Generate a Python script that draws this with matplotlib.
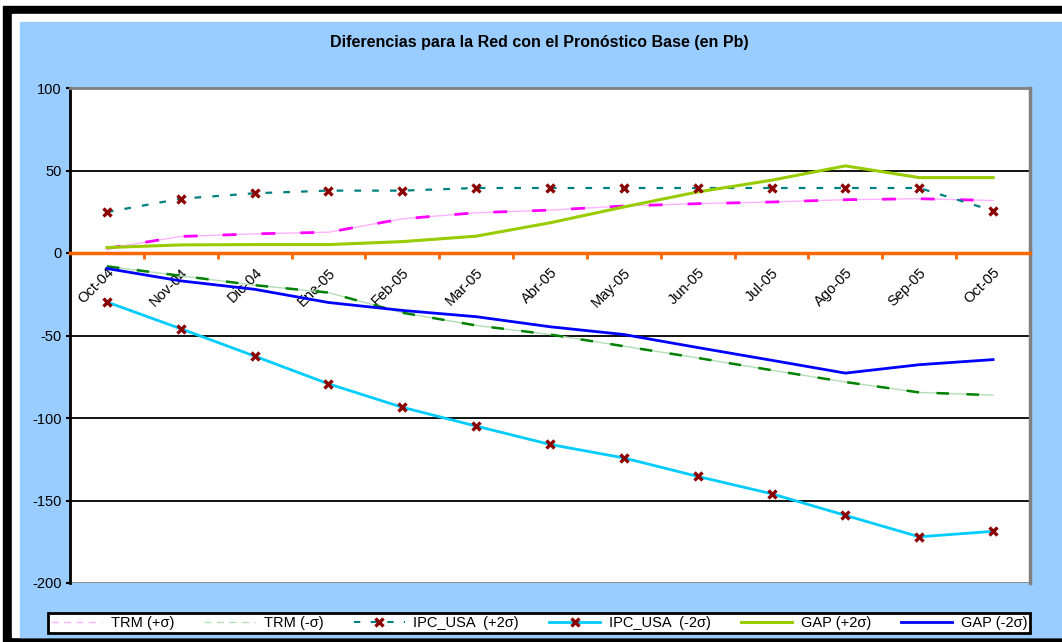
import matplotlib
matplotlib.use("Agg")
import matplotlib.pyplot as plt
from matplotlib.lines import Line2D
from matplotlib.patches import Rectangle

plt.rcParams['font.family'] = ['Liberation Sans', 'DejaVu Sans']
plt.rcParams['axes.unicode_minus'] = False

months = ['Oct-04', 'Nov-04', 'Dic-04', 'Ene-05', 'Feb-05', 'Mar-05', 'Abr-05',
          'May-05', 'Jun-05', 'Jul-05', 'Ago-05', 'Sep-05', 'Oct-05']
trm_up = [2.8, 10, 11.6, 12.6, 20.7, 24.4, 26, 28.5, 29.9, 30.9, 32.3, 32.9, 31.8]
trm_dn = [-8.1, -13.8, -19.5, -24, -36.2, -43.9, -49.4, -56.5, -63.6, -71, -78.2, -84.5, -86.2]
ipc_up = [24.8, 32.9, 36.2, 37.8, 37.8, 39.4, 39.4, 39.4, 39.4, 39.4, 39.4, 39.4, 25.6]
ipc_dn = [-29.7, -45.9, -62.5, -79.3, -93.5, -104.9, -116, -124.2, -135.4, -145.9, -159, -172, -168.7]
gap_up = [3.3, 4.9, 5.1, 5.1, 6.9, 10.2, 18.3, 27.9, 37, 44.1, 52.8, 45.7, 45.7]
gap_dn = [-9.4, -16.9, -22, -30, -34.8, -38.6, -44.7, -49.4, -57.3, -65, -72.8, -67.7, -64.6]
labels = ['TRM (+σ)', 'TRM (-σ)', 'IPC_USA  (+2σ)', 'IPC_USA  (-2σ)', 'GAP (+2σ)', 'GAP (-2σ)']

W, H = 1062, 642
fig = plt.figure(figsize=(W / 100, H / 100), dpi=100, facecolor='white')


def px_rect(x0, y0, x1, y1, color):
    # rectangle given in pixel coords (top-left origin)
    fig.patches.append(Rectangle((x0 / W, 1 - y1 / H), (x1 - x0) / W, (y1 - y0) / H,
                                 transform=fig.transFigure, color=color, zorder=-10))


# outer frame of the screenshot
px_rect(3, 6, W + 5, 642, 'black')
px_rect(12, 14, W + 5, 637, 'white')
px_rect(20, 22, W + 5, 637, '#99CCFF')

ax = fig.add_axes([70 / W, 1 - 583 / H, (1030 - 70) / W, (583 - 88) / H])
ax.set_facecolor('white')

x = list(range(len(months)))

# gridlines
for g in [50, -50, -100, -150]:
    ax.axhline(g, color='black', lw=1.3, zorder=1)

# TRM (+sigma): thin pink base + magenta dashes
ax.plot(x, trm_up, color='#FFB3FF', lw=1, zorder=2)
ax.plot(x, trm_up, color='#FF00FF', lw=2, dashes=(5, 9), zorder=2)
# TRM (-sigma)
ax.plot(x, trm_dn, color='#B3DDB3', lw=1, zorder=2)
ax.plot(x, trm_dn, color='#008000', lw=1.8, dashes=(5, 7), zorder=2)
# IPC_USA (+2sigma)
ax.plot(x, ipc_up, color='#008080', lw=1.6, dashes=(3, 5), zorder=3)
ax.plot(x, ipc_up, ls='none', marker='x', ms=6, mew=2.4, color='#8B0000', zorder=5)
# IPC_USA (-2sigma)
ax.plot(x, ipc_dn, color='#00CCFF', lw=2, zorder=3)
ax.plot(x, ipc_dn, ls='none', marker='x', ms=6, mew=2.4, color='#8B0000', zorder=5)
# GAP
ax.plot(x, gap_up, color='#99CC00', lw=2.2, zorder=3)
ax.plot(x, gap_dn, color='#0000FF', lw=2, zorder=3)

ax.set_xlim(-0.5, len(months) - 0.5)
ax.set_ylim(-200, 100)
ax.set_yticks([-200, -150, -100, -50, 0, 50, 100])
ax.tick_params(axis='y', length=3, width=1.5, pad=3, labelsize=10.5, colors='black')

# zero line acts as category axis
ax.spines['bottom'].set_position(('data', 0))
ax.spines['bottom'].set_color('#FF6600')
ax.spines['bottom'].set_linewidth(2.5)
ax.spines['bottom'].set_zorder(4)
ax.spines['left'].set_linewidth(2)
ax.spines['top'].set_color('#808080')
ax.spines['top'].set_linewidth(2)
ax.spines['right'].set_color('#808080')
ax.spines['right'].set_linewidth(2.5)
ax.axhline(-200, color='#808080', lw=2, zorder=1)

ax.set_xticks(x)
ax.set_xticklabels(months, rotation=45, ha='right', rotation_mode='anchor', fontsize=10.5)
ax.set_xticks([i + 0.5 for i in x[:-1]], minor=True)
ax.tick_params(axis='x', which='major', length=0, pad=9)
ax.tick_params(axis='x', which='minor', length=4, width=2, color='#FF6600')

fig.text(539 / W, 1 - 42 / H, 'Diferencias para la Red con el Pronóstico Base (en Pb)',
         ha='center', va='center', fontsize=11.5, fontweight='bold')

handles = [
    Line2D([], [], color='#FFB3FF', lw=1, ls=(0, (5, 4))),
    Line2D([], [], color='#B3DDB3', lw=1, ls=(0, (5, 4))),
    Line2D([], [], color='#008080', lw=1.5, ls=(0, (3, 5)), marker='x', ms=6, mew=2.4,
           mfc='#8B0000', mec='#8B0000'),
    Line2D([], [], color='#00CCFF', lw=2, marker='x', ms=6, mew=2.4,
           mfc='#8B0000', mec='#8B0000'),
    Line2D([], [], color='#99CC00', lw=2.2),
    Line2D([], [], color='#0000FF', lw=2),
]
leg = fig.legend(handles, labels, loc='lower left', ncol=6, mode='expand',
                 bbox_to_anchor=(48 / W, 1 - 633 / H, (1030 - 48) / W, 23 / H),
                 fontsize=10.5, frameon=True, fancybox=False, framealpha=1, borderaxespad=0,
                 handlelength=3.5, borderpad=0.2, handletextpad=0.6, columnspacing=1)
leg.get_frame().set_edgecolor('black')
leg.get_frame().set_linewidth(2)
leg.get_frame().set_facecolor('white')

fig.savefig('out.png', dpi=100, facecolor=fig.get_facecolor())
